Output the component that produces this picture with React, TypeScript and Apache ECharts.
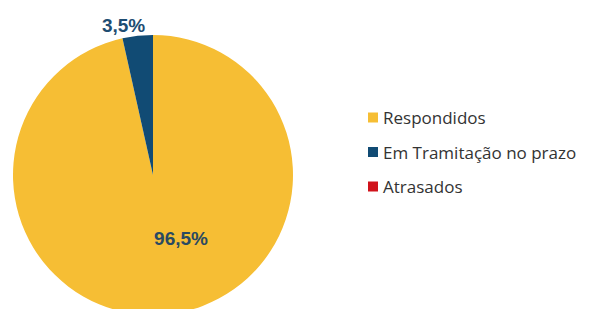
import React, { useEffect, useRef } from "react";
import * as echarts from "echarts";

const categories = ["Respondidos", "Em Tramitação no prazo", "Atrasados"];
const values = [96.5, 3.5, 0];
const colors = ["#F6BE34", "#114B74", "#D0121B"];

export default function App() {
  const ref = useRef<HTMLDivElement>(null);
  useEffect(() => {
    if (!ref.current) return;
    const chart = echarts.init(ref.current, undefined, { renderer: "svg" });
    const fmt = (v: number) => v.toFixed(1).replace(".", ",") + "%";
    chart.setOption({
      animation: false,
      backgroundColor: "#ffffff",
      legend: {
        orient: "vertical",
        left: 363,
        top: 104,
        icon: "rect",
        itemWidth: 10,
        itemHeight: 10,
        itemGap: 17.5,
        textStyle: {
          fontFamily: "Open Sans, Liberation Sans, Arial, sans-serif",
          fontSize: 17,
          color: "#333333",
        },
        data: categories,
      },
      series: [
        {
          type: "pie",
          center: [153, 175],
          radius: 140,
          startAngle: 90,
          clockwise: true,
          avoidLabelOverlap: false,
          itemStyle: { borderWidth: 0 },
          data: categories.map((name, i) => {
            const item: any = {
              name,
              value: values[i],
              itemStyle: { color: colors[i] },
            };
            if (i === 0) {
              item.label = {
                show: true,
                position: "inside",
                offset: [20, -9],
                formatter: () => fmt(values[0]),
                fontFamily: "Liberation Sans, Arial, sans-serif",
                fontSize: 19,
                fontWeight: "bold",
                color: "#2A4A62",
              };
            } else if (i === 1) {
              item.label = {
                show: true,
                position: "outside",
                offset: [13, -6],
                formatter: () => fmt(values[1]),
                fontFamily: "Liberation Sans, Arial, sans-serif",
                fontSize: 19,
                fontWeight: "bold",
                color: "#1E4D72",
              };
              item.labelLine = { show: false, length: 4, length2: 0 };
            } else {
              item.label = { show: false };
              item.labelLine = { show: false };
            }
            return item;
          }),
        },
      ],
    });
    return () => chart.dispose();
  }, []);
  return (
    <div
      ref={ref}
      style={{ position: "fixed", left: 0, top: 0, width: 590, height: 309 }}
    />
  );
}
